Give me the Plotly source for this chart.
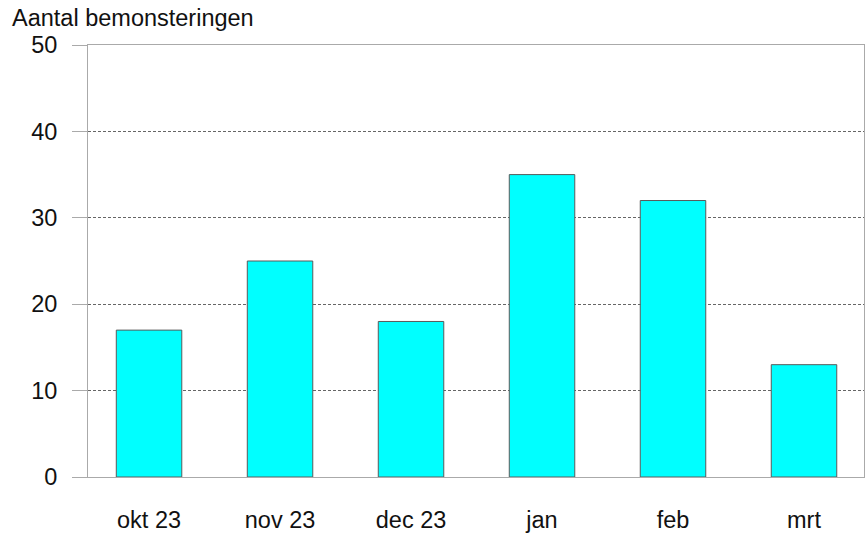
import plotly.graph_objects as go

categories = ["okt 23", "nov 23", "dec 23", "jan", "feb", "mrt"]
values = [17, 25, 18, 35, 32, 13]
y_ticks = [0, 10, 20, 30, 40, 50]
y_title = "Aantal bemonsteringen"

fig = go.Figure(go.Bar(
    x=list(range(len(categories))),
    y=values,
    width=0.5,
    marker=dict(color="#00FFFF", line=dict(color="#5a5a5a", width=1)),
))

font = dict(family="Liberation Sans, Arial, sans-serif", size=23.5, color="#111111")

fig.update_layout(
    width=866, height=535,
    margin=dict(l=88, r=2, t=45, b=58),
    paper_bgcolor="white", plot_bgcolor="white",
    showlegend=False,
    font=font,
    annotations=[dict(text=y_title, xref="paper", yref="paper", x=-0.1, y=1.0,
                      xanchor="left", yanchor="middle", yshift=27, showarrow=False,
                      font=font)],
)
fig.update_xaxes(
    range=[-0.466, 5.458], automargin=False,
    tickmode="array", tickvals=list(range(len(categories))), ticktext=categories,
    showgrid=False, zeroline=False,
    showline=True, linecolor="#aaaaaa", linewidth=1, mirror=True,
    ticks="", ticklabelstandoff=22,
)
fig.update_yaxes(
    range=[0, 50], tickvals=y_ticks, automargin=False,
    showgrid=True, gridcolor="#666666", griddash="3px,2px", gridwidth=1,
    zeroline=False,
    showline=True, linecolor="#aaaaaa", linewidth=1, mirror=True,
    ticks="outside", ticklen=15, tickcolor="#aaaaaa",
    ticklabelstandoff=10,
)
fig.write_html(
    "out.html",
    config={"displayModeBar": False},
    post_script="document.body.style.margin='0';document.body.style.overflow='hidden';",
)
